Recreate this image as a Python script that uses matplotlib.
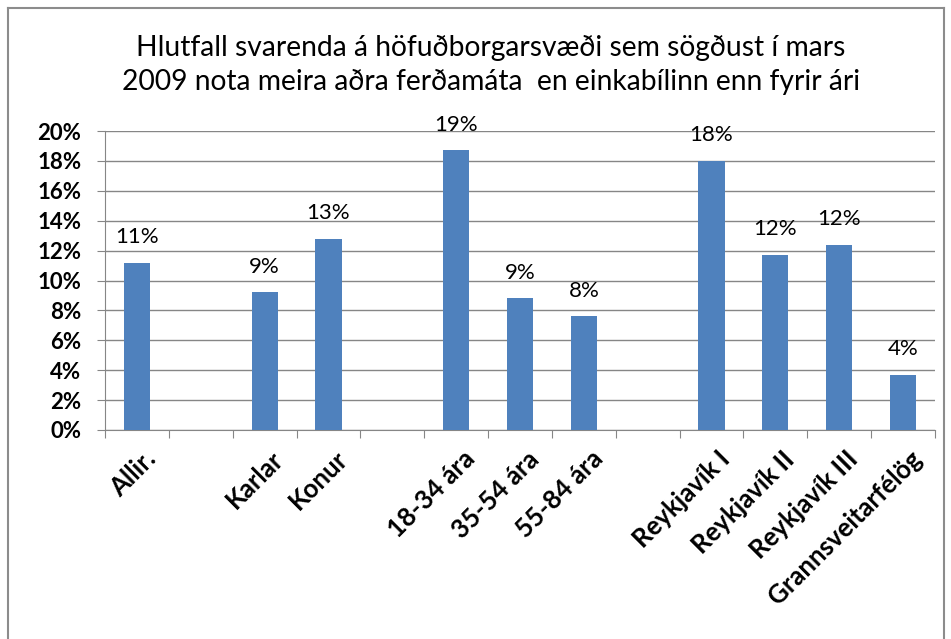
import numpy as np
import matplotlib.pyplot as plt
from matplotlib.lines import Line2D

# data
categories = ['Allir.', '', 'Karlar', 'Konur', '', '18-34 ára', '35-54 ára', '55-84 ára', '',
              'Reykjavík I', 'Reykjavík II', 'Reykjavík III', 'Grannsveitarfélög']
values = [11.2, np.nan, 9.2, 12.8, np.nan, 18.7, 8.8, 7.6, np.nan, 18.0, 11.7, 12.4, 3.7]
title = 'Hlutfall svarenda á höfuðborgarsvæði sem sögðust í mars\n2009 nota meira aðra ferðamáta  en einkabílinn enn fyrir ári'

plt.rcParams['font.family'] = ['Lato', 'DejaVu Sans']

fig = plt.figure(figsize=(9.51, 6.39), dpi=100)
ax = fig.add_axes([105/951, 1 - 430/639, 830/951, 299/639])

x = np.arange(len(categories)) + 0.5
bar_color = '#4f81bd'
ax.bar(x, values, width=0.41, color=bar_color, zorder=3)

for xi, v in zip(x, values):
    if np.isnan(v):
        continue
    ax.annotate(f'{v:.0f}%', (xi, v), xytext=(0, 18.5), textcoords='offset points',
                ha='center', va='center', fontsize=16, color='black')

ax.set_xlim(0, len(categories))
ax.set_ylim(0, 20)
ax.set_yticks(np.arange(0, 21, 2))
ax.set_yticklabels([f'{t}%' for t in range(0, 21, 2)], fontsize=16, fontweight='bold')
ax.yaxis.grid(True, color='#868686', linewidth=1, zorder=0)

ax.set_xticks(np.arange(len(categories) + 1), minor=False)
ax.set_xticklabels([])
ax.set_xticks(x + 0.1, minor=True)
ax.set_xticklabels(categories, minor=True, rotation=45, ha='right',
                   rotation_mode='anchor', fontsize=18.5, fontweight='bold')
ax.tick_params(axis='x', which='minor', length=0, pad=12)
ax.tick_params(axis='x', which='major', length=6, color='#868686', direction='out')
ax.tick_params(axis='y', length=6, color='#868686', pad=11)

for side in ['top', 'right']:
    ax.spines[side].set_visible(False)
for side in ['left', 'bottom']:
    ax.spines[side].set_color('#868686')

fig.text(491/951, 1 - 65/639, title, ha='center', va='center', fontsize=20.3,
         linespacing=1.38)

# outer chart border
border = '#8c8c8c'
fig.add_artist(Line2D([8/951, 8/951], [0, 1 - 8/639], color=border, lw=1.5, transform=fig.transFigure))
fig.add_artist(Line2D([8/951, 944/951], [1 - 8/639, 1 - 8/639], color=border, lw=1.5, transform=fig.transFigure))
fig.add_artist(Line2D([944/951, 944/951], [0, 1 - 8/639], color=border, lw=1.5, transform=fig.transFigure))

fig.savefig('out.png', dpi=100)
